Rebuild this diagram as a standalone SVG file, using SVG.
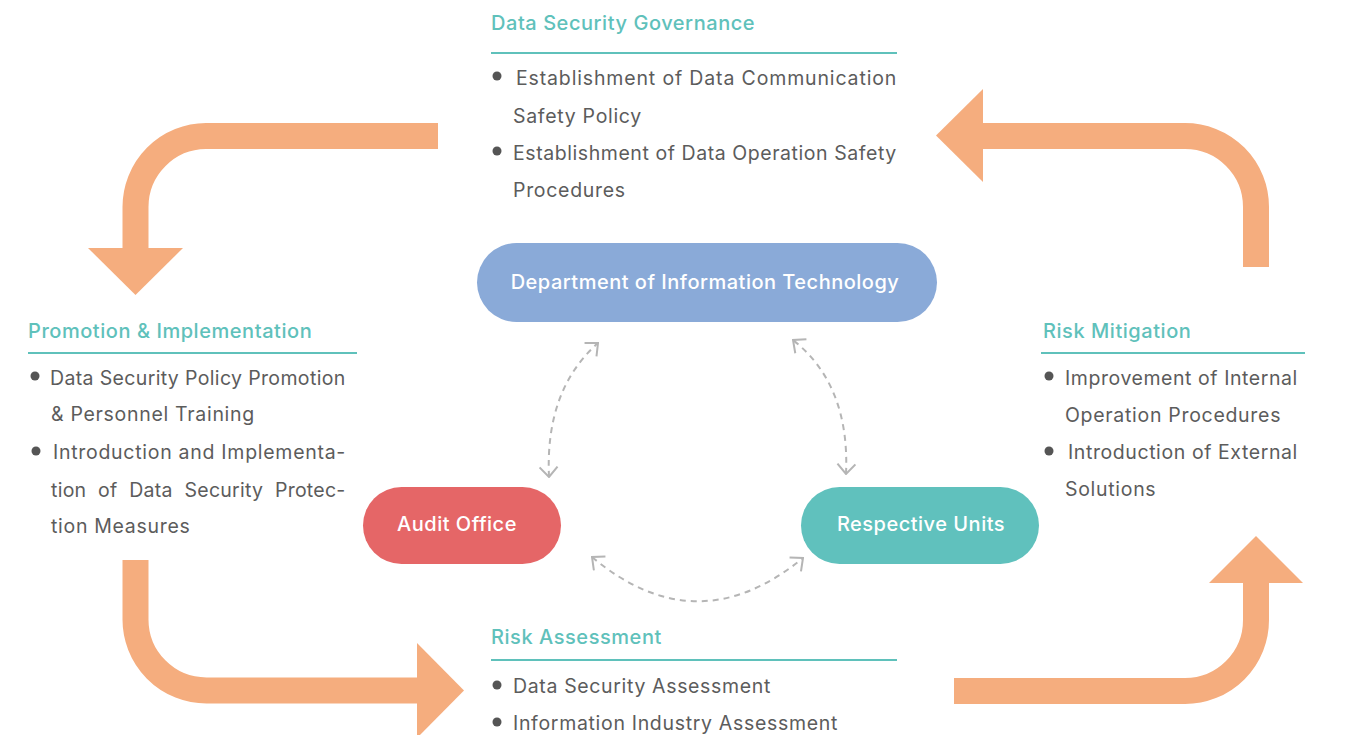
<svg xmlns="http://www.w3.org/2000/svg" width="1345" height="735" viewBox="0 0 1345 735">
<defs>
<style>
.flow{fill:none;stroke:#F5AD7E;stroke-width:26}
.head{fill:#F5AD7E}
.h{font-family:Inter,"Noto Sans",sans-serif;font-size:20px;font-weight:500;letter-spacing:0.55px;fill:#5FC1BB}
.t{font-family:Inter,"Noto Sans",sans-serif;font-size:19.5px;letter-spacing:0.7px;fill:#5c5c5c}
.rule{stroke:#5FC1BB;stroke-width:2}
.dot{fill:#555}
.lbl{font-family:Inter,"Noto Sans",sans-serif;font-size:20px;font-weight:500;letter-spacing:0.5px;fill:#fff;text-anchor:middle}
.dash{fill:none;stroke:#B5B5B5;stroke-width:2;stroke-dasharray:6 5;marker-start:url(#chev);marker-end:url(#chev)}
</style>
<marker id="chev" viewBox="0 0 12 20" refX="11" refY="10" markerWidth="12" markerHeight="20" markerUnits="userSpaceOnUse" orient="auto-start-reverse">
<path d="M1,1 L11,10 L1,19" fill="none" stroke="#B5B5B5" stroke-width="2"/>
</marker>
</defs>
<rect width="1345" height="735" fill="#fff"/>

<g id="flow-arrows">
<path class="flow" d="M438,136 H206 A71,71 0 0 0 135.5,207 V250"/>
<polygon class="head" points="88,248 183,248 135.5,295"/>
<path class="flow" d="M1256,267 V207 A71,71 0 0 0 1185,136 H980"/>
<polygon class="head" points="983,89 983,182 936,135.5"/>
<path class="flow" d="M135.5,560 V619 A71,71 0 0 0 206.5,690.5 H420"/>
<polygon class="head" points="417,643 417,738 464,690.5"/>
<path class="flow" d="M954,691 H1185 A71,71 0 0 0 1256,620 V580"/>
<polygon class="head" points="1209,583 1303,583 1256,536"/>
</g>

<g id="connectors">
<path class="dash" d="M549,477 Q545,390 598,343"/>
<path class="dash" d="M846,474 Q850,385 793,340"/>
<path class="dash" d="M592,557 Q697,645 803,558"/>
</g>

<g id="node-it">
<rect x="477" y="243" width="460" height="79" rx="39.5" fill="#8AAAD8"/>
<text class="lbl" x="705" y="289">Department of Information Technology</text>
</g>
<g id="node-audit">
<rect x="363" y="487" width="198" height="77" rx="38.5" fill="#E56667"/>
<text class="lbl" x="457" y="531">Audit Office</text>
</g>
<g id="node-units">
<rect x="801" y="487" width="238" height="77" rx="38.5" fill="#60C1BD"/>
<text class="lbl" x="921" y="531">Respective Units</text>
</g>

<g id="block-governance">
<text class="h" x="491" y="30">Data Security Governance</text>
<line class="rule" x1="491" y1="53" x2="897" y2="53"/>
<circle class="dot" cx="497" cy="76" r="4.5"/>
<text class="t" x="516" y="85" textLength="381" lengthAdjust="spacing">Establishment of Data Communication</text>
<text class="t" x="513" y="123">Safety Policy</text>
<circle class="dot" cx="497" cy="151" r="4.5"/>
<text class="t" x="513" y="160" textLength="384" lengthAdjust="spacing">Establishment of Data Operation Safety</text>
<text class="t" x="513" y="197">Procedures</text>
</g>

<g id="block-promotion">
<text class="h" x="28" y="338">Promotion &amp; Implementation</text>
<line class="rule" x1="28" y1="353" x2="357" y2="353"/>
<circle class="dot" cx="35" cy="376" r="4.5"/>
<text class="t" x="50" y="385" textLength="296" lengthAdjust="spacing">Data Security Policy Promotion</text>
<text class="t" x="51" y="421">&amp; Personnel Training</text>
<circle class="dot" cx="36" cy="451" r="4.5"/>
<text class="t" x="53" y="459" textLength="293" lengthAdjust="spacing">Introduction and Implementa-</text>
<text class="t" x="51" y="497" textLength="295" lengthAdjust="spacing" word-spacing="6">tion of Data Security Protec-</text>
<text class="t" x="51" y="533">tion Measures</text>
</g>

<g id="block-mitigation">
<text class="h" x="1043" y="338">Risk Mitigation</text>
<line class="rule" x1="1041" y1="353" x2="1305" y2="353"/>
<circle class="dot" cx="1049" cy="376" r="4.5"/>
<text class="t" x="1065" y="385" textLength="233" lengthAdjust="spacing">Improvement of Internal</text>
<text class="t" x="1065" y="422">Operation Procedures</text>
<circle class="dot" cx="1049" cy="451" r="4.5"/>
<text class="t" x="1068" y="459" textLength="230" lengthAdjust="spacing">Introduction of External</text>
<text class="t" x="1065" y="496">Solutions</text>
</g>

<g id="block-assessment">
<text class="h" x="491" y="644">Risk Assessment</text>
<line class="rule" x1="491" y1="660" x2="897" y2="660"/>
<circle class="dot" cx="497" cy="685" r="4.5"/>
<text class="t" x="513" y="693" textLength="258" lengthAdjust="spacing">Data Security Assessment</text>
<circle class="dot" cx="497" cy="722" r="4.5"/>
<text class="t" x="513" y="730" textLength="325" lengthAdjust="spacing">Information Industry Assessment</text>
</g>
</svg>
